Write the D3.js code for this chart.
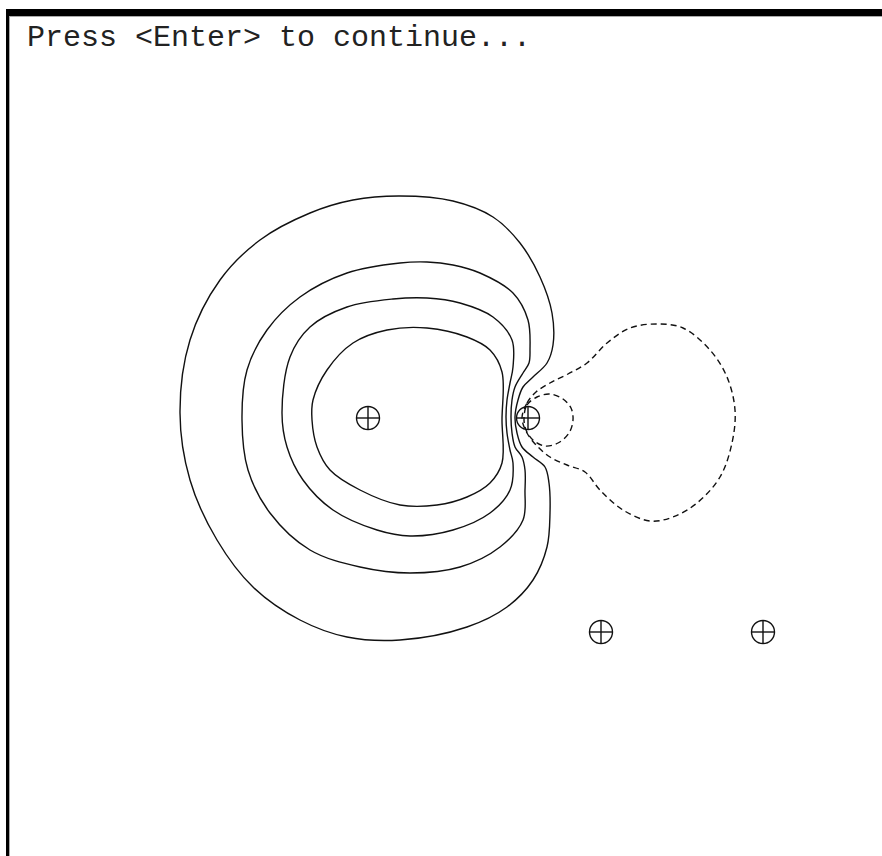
<!DOCTYPE html>
<html>
<head>
<meta charset="utf-8">
<script src="https://cdn.jsdelivr.net/npm/d3@7"></script>
<style>
    body { margin: 0; background: #fff; }
    svg { display: block; }
</style>
</head>
<body>
<svg id="chart"></svg>
<script>
// contour levels, in grid units (1 unit = 10 px)
const positiveLevels = [
    [[40.0,19.6],[45.3,20.1],[49.3,21.7],[52.0,24.3],[54.0,27.7],[55.2,31.3],[55.3,34.5],[54.7,36.3],[53.3,37.7],[52.3,38.7],[51.8,40.0],[51.5,41.7],[51.7,43.3],[52.2,44.7],[53.3,45.7],[54.5,46.7],[54.9,48.3],[55.0,51.3],[54.7,54.7],[53.3,58.0],[50.7,60.7],[46.7,62.7],[40.0,64.0],[34.7,63.7],[30.0,62.0],[25.3,58.7],[21.7,54.0],[19.0,48.0],[18.0,41.3],[19.0,34.0],[22.0,28.0],[26.0,24.0],[31.0,21.3],[35.3,20.0]],
    [[42.7,26.2],[45.3,26.5],[48.0,27.3],[51.3,29.3],[52.8,32.0],[53.0,35.0],[52.9,36.3],[52.3,37.3],[51.5,38.7],[51.2,40.0],[51.1,41.7],[51.2,43.3],[51.5,44.7],[52.2,45.7],[52.5,47.0],[52.5,49.0],[52.3,52.0],[50.0,54.7],[46.0,56.7],[41.0,57.3],[36.0,56.7],[31.0,55.0],[27.0,51.3],[24.8,47.0],[24.2,42.0],[24.7,37.0],[26.7,33.0],[30.0,29.7],[34.7,27.3],[40.0,26.3]],
    [[42.7,29.8],[46.0,30.3],[49.3,31.7],[51.2,34.0],[51.3,36.7],[51.0,38.3],[50.7,40.0],[50.6,41.7],[50.7,43.3],[51.0,45.0],[51.3,46.3],[51.0,49.0],[49.0,51.3],[45.3,53.0],[41.0,53.6],[37.7,53.0],[33.3,51.0],[30.3,48.0],[28.7,44.7],[28.2,41.3],[29.0,35.7],[31.0,32.7],[34.7,30.7],[39.3,29.9]],
    [[42.7,32.8],[46.7,33.7],[49.0,35.0],[50.2,37.2],[50.2,42.0],[50.2,46.3],[49.0,48.3],[46.7,49.7],[43.7,50.5],[40.0,50.5],[36.0,49.0],[33.0,47.0],[31.7,44.7],[31.2,42.0],[31.3,40.0],[32.7,37.0],[35.3,34.3],[38.7,33.0]]
];

const negativeLevels = [
    [[52.2,41.8],[52.7,40.3],[53.6,39.2],[55.0,38.3],[56.8,37.4],[58.7,36.3],[60.7,34.3],[63.0,32.8],[65.7,32.4],[68.3,32.8],[71.0,35.0],[72.7,37.7],[73.5,41.0],[73.2,44.3],[72.0,47.7],[69.7,50.3],[67.3,51.7],[65.0,52.1],[62.3,51.0],[60.0,49.0],[58.5,47.2],[56.7,46.5],[55.0,45.7],[53.7,44.6],[52.7,43.3]],
    [[52.4,41.8],[52.7,40.5],[53.7,39.7],[55.0,39.4],[56.3,39.9],[57.1,40.8],[57.3,42.0],[56.9,43.3],[55.8,44.3],[54.5,44.6],[53.3,44.0],[52.6,43.0]]
];

const charges = [[36.8,41.8],[52.8,41.8],[60.1,63.2],[76.3,63.2]];

const prompt = "Press <Enter> to continue...";

class ContourPlot {
    constructor(svg, width = 882, height = 856) {
        this.svg = svg;
        this.width = width;
        this.height = height;
    }

    initialize() {
        this.svg = d3.select(this.svg)
            .attr("width", this.width)
            .attr("height", this.height);

        this.xScale = d3.scaleLinear().domain([0, 88.2]).range([0, this.width]);
        this.yScale = d3.scaleLinear().domain([0, 85.6]).range([0, this.height]);

        // window frame
        this.svg.append("rect").attr("x", 6).attr("y", 9)
            .attr("width", this.width - 6).attr("height", 7).attr("fill", "#000");
        this.svg.append("rect").attr("x", 6).attr("y", 9)
            .attr("width", 3).attr("height", this.height - 9).attr("fill", "#000");
        this.svg.append("line").attr("x1", 9.5).attr("x2", 9.5).attr("y1", 16).attr("y2", this.height)
            .attr("stroke", "#aaa").attr("stroke-width", 1);
        this.svg.append("line").attr("x1", 9).attr("x2", this.width).attr("y1", 16.5).attr("y2", 16.5)
            .attr("stroke", "#aaa").attr("stroke-width", 1);

        this.container = this.svg.append("g");
    }

    update() {
        const line = d3.line()
            .x(d => this.xScale(d[0]))
            .y(d => this.yScale(d[1]))
            .curve(d3.curveCatmullRomClosed.alpha(0.5));

        this.container.selectAll("path.pos")
            .data(positiveLevels)
            .join("path")
            .attr("class", "pos")
            .attr("fill", "none")
            .attr("stroke", "#111")
            .attr("stroke-width", 1.4)
            .attr("d", line);

        this.container.selectAll("path.neg")
            .data(negativeLevels)
            .join("path")
            .attr("class", "neg")
            .attr("fill", "none")
            .attr("stroke", "#111")
            .attr("stroke-width", 1.4)
            .attr("stroke-dasharray", "6,4")
            .attr("d", line);

        const r = 11.5;
        const marks = this.container.selectAll("g.charge")
            .data(charges)
            .join("g")
            .attr("class", "charge")
            .attr("transform", d => `translate(${this.xScale(d[0])}, ${this.yScale(d[1])})`);

        marks.append("circle")
            .attr("r", r)
            .attr("fill", "none")
            .attr("stroke", "#111")
            .attr("stroke-width", 1.4);
        marks.append("line")
            .attr("x1", -r).attr("x2", r)
            .attr("stroke", "#111").attr("stroke-width", 1.4);
        marks.append("line")
            .attr("y1", -r).attr("y2", r)
            .attr("stroke", "#111").attr("stroke-width", 1.4);

        this.svg.append("text")
            .attr("x", 27)
            .attr("y", 46)
            .attr("font-family", "'Liberation Mono', 'DejaVu Sans Mono', monospace")
            .attr("font-size", 30)
            .attr("fill", "#222")
            .text(prompt);
    }
}

const plot = new ContourPlot(document.getElementById("chart"));
plot.initialize();
plot.update();
</script>
</body>
</html>
